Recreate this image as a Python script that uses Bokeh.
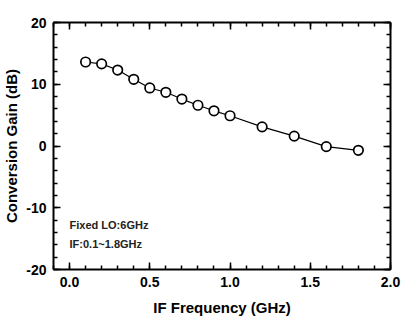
from bokeh.plotting import figure
from bokeh.models import (LinearAxis, SingleIntervalTicker, Range1d, Label,
                          CustomJSTickFormatter)
from bokeh.embed import file_html
from bokeh.resources import INLINE

# Data
if_freq = [0.1, 0.2, 0.3, 0.4, 0.5, 0.6, 0.7, 0.8, 0.9, 1.0, 1.2, 1.4, 1.6, 1.8]
gain = [13.6, 13.3, 12.3, 10.8, 9.4, 8.7, 7.6, 6.6, 5.7, 4.9, 3.1, 1.6, -0.1, -0.7]
x_label = "IF Frequency (GHz)"
y_label = "Conversion Gain (dB)"
notes = ["Fixed LO:6GHz", "IF:0.1~1.8GHz"]

FONT = "Liberation Sans"

p = figure(width=420, height=324, output_backend="svg", toolbar_location=None,
           x_range=Range1d(-0.1, 2.0), y_range=Range1d(-20, 20),
           x_axis_type=None, y_axis_type=None,
           min_border_left=52, min_border_right=30, min_border_top=22,
           min_border_bottom=55)
p.outline_line_color = None
p.xgrid.visible = False
p.ygrid.visible = False
p.background_fill_color = "white"
p.border_fill_color = "white"

def make_axis(kind, loc, show_labels):
    if kind == "x":
        ticker = SingleIntervalTicker(interval=0.5, num_minor_ticks=5)
        fmt = CustomJSTickFormatter(code="return tick.toFixed(1);")
    else:
        ticker = SingleIntervalTicker(interval=10, num_minor_ticks=5)
        fmt = CustomJSTickFormatter(code="return tick.toFixed(0);")
    ax = LinearAxis(ticker=ticker, formatter=fmt)
    ax.axis_line_width = 2
    ax.axis_line_color = "black"
    ax.major_tick_in = 7
    ax.major_tick_out = 0
    ax.minor_tick_in = 4
    ax.minor_tick_out = 0
    ax.major_tick_line_width = 1.5
    ax.minor_tick_line_width = 1.5
    ax.major_label_text_font = FONT
    ax.major_label_text_font_style = "bold"
    ax.major_label_text_font_size = "14px"
    ax.major_label_text_color = "black"
    ax.axis_label_text_font = FONT
    ax.axis_label_text_font_style = "bold"
    ax.axis_label_text_font_size = "15px"
    ax.axis_label_text_color = "black"
    if not show_labels:
        ax.major_label_text_alpha = 0
        ax.major_label_text_font_size = "1px"
        ax.major_label_standoff = 0
    p.add_layout(ax, loc)
    return ax

xb = make_axis("x", "below", True)
xb.axis_label = x_label
xb.major_label_standoff = 7
xb.axis_label_standoff = 9
yl = make_axis("y", "left", True)
yl.axis_label = y_label
yl.major_label_standoff = 7
yl.axis_label_standoff = 3
make_axis("x", "above", False)
make_axis("y", "right", False)

p.line(if_freq, gain, line_color="black", line_width=1.2)
p.scatter(if_freq, gain, size=9.5, fill_color="white", line_color="black",
          line_width=1.7)

for i, t in enumerate(notes):
    p.add_layout(Label(x=0.0, y=-12.8 - 3.1 * i, text=t, text_font=FONT,
                       text_font_style="bold", text_font_size="11px",
                       text_baseline="middle", text_color="#222222"))

open("out.html", "w").write(file_html(p, INLINE))
